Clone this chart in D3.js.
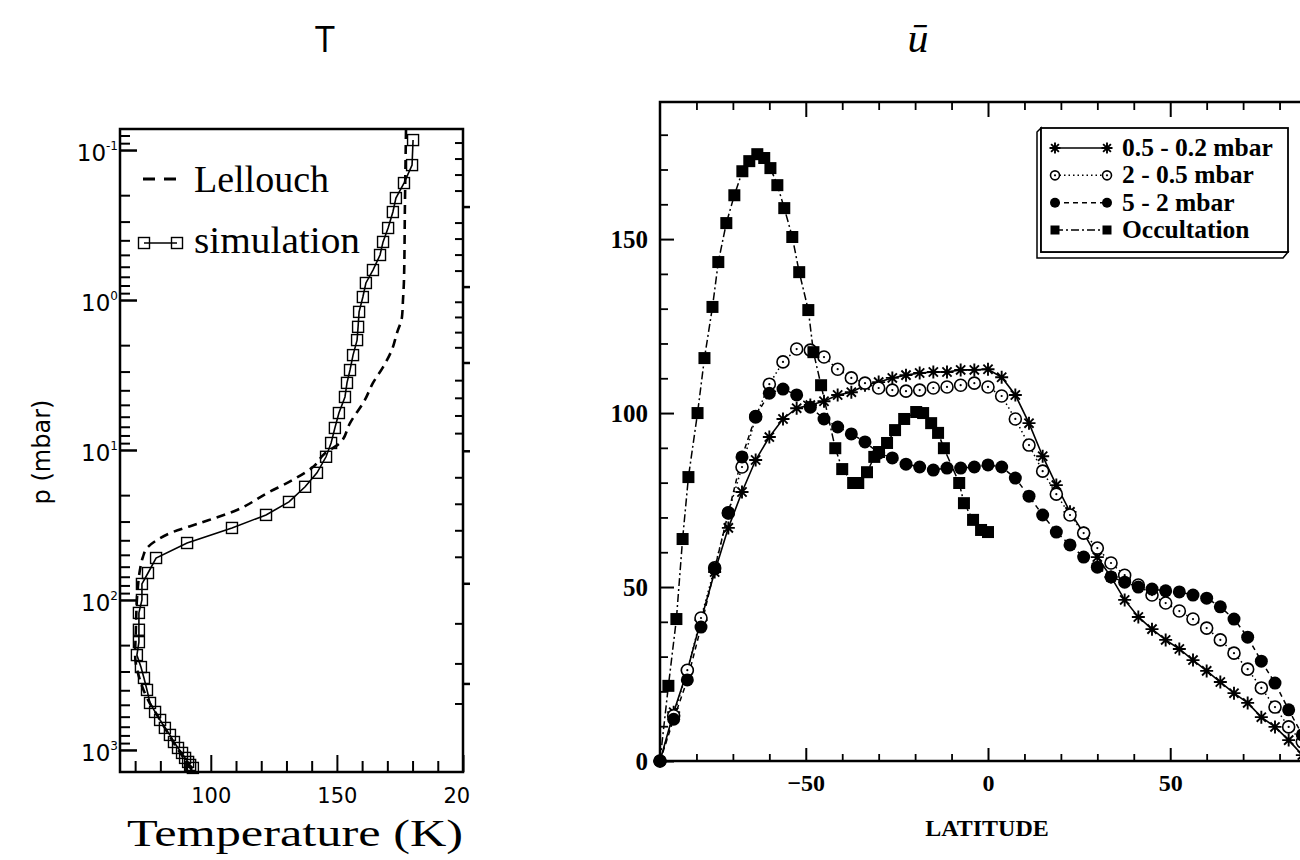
<!DOCTYPE html>
<html lang="en">
<head>
  <meta charset="UTF-8">
  <title>Temperature profile and zonal wind</title>
  <script src="https://d3js.org/d3.v7.min.js"></script>
  <style>
    body { margin: 0; background: #fff; }
    svg { display: block; }
  </style>
</head>
<body>
  <div id="chart"></div>

  <script>
    // ---- left panel data : temperature profiles (T in K, p in mbar)
    const pLellouch = [0.0736, 0.215, 0.736, 1.0, 1.30, 1.66, 2.15, 2.80, 3.57, 4.64, 6.61, 8.98, 10.5, 13.0, 15.8, 19.4, 25.1, 30.7, 35.2, 39.8, 45.0, 51.7, 63.1, 81.8, 100, 158, 233, 341, 464, 631, 926, 1359];
    const tLellouch = [177.4, 177.0, 176.6, 176.2, 175.8, 173.8, 171.8, 168.3, 164.3, 161.1, 155.2, 151.2, 145.3, 140.5, 132.6, 122.3, 110.4, 95.7, 85.0, 78.7, 74.7, 73.1, 71.9, 71.1, 70.7, 70.3, 70.0, 71.9, 75.1, 79.9, 85.8, 92.5];

    const pSimulation = [0.0858, 0.126, 0.166, 0.209, 0.259, 0.331, 0.41, 0.501, 0.631, 0.77, 0.955, 1.2, 1.51, 1.85, 2.33, 2.93, 3.57, 4.43, 5.67, 7.13, 8.98, 11.1, 14.2, 17.6, 22.2, 27.1, 33.1, 41.7, 52.5, 66.1, 78.2, 100, 122, 158, 191, 233, 280, 331, 398, 486, 558, 631, 713, 794, 885, 970, 1047, 1130, 1202, 1259, 1318];
    const tSimulation = [180.2, 179.8, 176.6, 173.4, 172.2, 170.3, 168.3, 167.1, 164.3, 161.5, 160.3, 158.8, 158.4, 158.0, 156.4, 155.2, 154.0, 153.2, 150.8, 149.2, 147.7, 145.7, 142.1, 137.4, 131.0, 121.9, 108.4, 90.6, 78.3, 75.1, 72.7, 72.7, 71.5, 71.5, 71.5, 70.7, 72.3, 73.5, 74.7, 75.9, 77.9, 79.9, 81.8, 83.8, 85.4, 87.0, 88.6, 89.8, 91.0, 91.8, 92.9];

    const tempTicks = [100, 150, 200];
    const pDecades = [0.1, 1, 10, 100, 1000];
    const pExponents = ["-1", "0", "1", "2", "3"];
    const zTickLabels = [25, 50, 100, 150, 200, 250];
    const zTickPressures = [363, 78, 10.2, 2.63, 0.82, 0.24];

    // ---- right panel data : zonal wind vs latitude
    const latGrid = [-90, -86.25, -82.5, -78.75, -75, -71.25, -67.5, -63.75, -60, -56.25, -52.5, -48.75, -45, -41.25, -37.5, -33.75, -30, -26.25, -22.5, -18.75, -15, -11.25, -7.5, -3.75, 0, 3.75, 7.5, 11.25, 15, 18.75, 22.5, 26.25, 30, 33.75, 37.5, 41.25, 45, 48.75, 52.5, 56.25, 60, 63.75, 67.5, 71.25, 75, 78.75, 82.5, 86.25, 90];
    const u05 = [0, 14, 26, 40.5, 54.3, 67, 77.3, 86.5, 93.1, 98.3, 101.4, 102.3, 103.4, 105.2, 106, 108, 108.9, 110.1, 110.9, 111.5, 111.8, 111.8, 112.4, 112.4, 112.6, 110.3, 105.2, 97.1, 87.6, 79.3, 71.6, 65.5, 58.6, 52.9, 46.3, 41.4, 37.9, 34.8, 32.2, 29.0, 25.9, 22.7, 19.5, 16.7, 12.6, 9.8, 6.0, 1.7, 0];
    const u2 = [0, 13, 26.1, 41.1, 55.5, 71.3, 84.5, 98.9, 108.3, 114.7, 118.4, 118.1, 116.1, 112.6, 110.1, 108.6, 107.2, 106.6, 106.3, 106.6, 107.2, 107.5, 108, 108.6, 107.5, 104.9, 98.3, 90.8, 83.3, 76.7, 70.7, 65.5, 61.2, 56.9, 53.4, 50.6, 47.7, 45.4, 43.1, 40.8, 38.2, 34.8, 31.0, 26.4, 21.0, 15.5, 9.8, 5.5, 0];
    const u5 = [0, 12, 23.3, 38.5, 55.2, 71.3, 87.4, 99.1, 105.7, 106.9, 105.2, 101.7, 98.3, 96, 94, 91.7, 88.5, 87.1, 85.3, 84.5, 83.6, 84.2, 84.2, 84.5, 85.1, 84.5, 81.3, 76.1, 70.7, 65.8, 62.1, 58.6, 55.7, 52.9, 51.4, 50, 49.4, 48.9, 48.6, 47.7, 46.8, 44.3, 40.8, 35.6, 28.7, 22.4, 14.7, 7.5, 0];
    const latOcc = [-90, -87.7, -85.5, -83.8, -82.2, -79.7, -77.8, -75.6, -74.0, -71.8, -69.6, -67.4, -65.5, -63.3, -61.4, -59.7, -57.8, -55.9, -53.7, -51.8, -49.3, -47.9, -45.8, -41.9, -40.0, -37.0, -35.6, -33.2, -31.2, -29.9, -27.7, -25.5, -23.0, -19.7, -17.8, -15.6, -13.7, -12.1, -7.9, -6.6, -4.1, -1.9, 0];
    const uOcc = [0, 21.6, 40.8, 63.8, 81.6, 100, 115.8, 130.5, 143.4, 154.6, 162.6, 169.5, 172.4, 174.4, 173.3, 170.4, 165.5, 158.9, 150.6, 140.5, 129.6, 117.5, 108, 89.9, 83.9, 79.9, 79.9, 83.0, 87.4, 88.8, 91.4, 95.1, 98.3, 100.3, 100, 97.1, 94.3, 89.9, 79.9, 74.1, 69.3, 66.4, 65.8];

    const seriesNames = ["0.5 - 0.2 mbar", "2 - 0.5 mbar", "5 - 2 mbar", "Occultation"];
    const latTicks = [-50, 0, 50];
    const uTicks = [0, 50, 100, 150];

    const svg = d3.select("#chart").append("svg")
      .attr("width", 1300)
      .attr("height", 860);

    svg.append("defs").append("clipPath").attr("id", "clipLeft")
      .append("rect").attr("x", 0).attr("y", 0).attr("width", 470).attr("height", 860);

    // titles
    svg.append("text")
      .attr("x", 325).attr("y", 52)
      .attr("text-anchor", "middle")
      .style("font-family", "'Open Sans', sans-serif")
      .style("font-size", "36px")
      .text("T");
    svg.append("text")
      .attr("x", 918).attr("y", 52)
      .attr("text-anchor", "middle")
      .style("font-family", "'Liberation Serif', serif")
      .style("font-style", "italic")
      .style("font-size", "42px")
      .text("\u016B");

    // ================= left panel =================
    const left = svg.append("g").attr("clip-path", "url(#clipLeft)");

    const xT = d3.scaleLinear().domain([64, 200]).range([120, 463]);
    const yP = d3.scaleLog().domain([1403, 0.0724]).range([772, 129]);

    // z (km) -> log10 p, polylinear through the labelled heights
    const zToLogP = d3.scaleLinear().domain(zTickLabels).range(zTickPressures.map(Math.log10));

    function styleAxis(g, width) {
      g.select(".domain").remove();
      g.selectAll("line").attr("stroke-width", width);
    }

    // bottom axis
    const tempMinor = d3.range(70, 200, 10).filter(t => !tempTicks.includes(t));
    left.append("g")
      .attr("transform", "translate(0,772)")
      .call(d3.axisBottom(xT).tickValues(tempMinor).tickSize(-11).tickFormat(""))
      .call(g => styleAxis(g, 2));
    left.append("g")
      .attr("transform", "translate(0,772)")
      .call(d3.axisBottom(xT).tickValues(tempTicks).tickSize(-17).tickPadding(16))
      .call(g => styleAxis(g, 2))
      .selectAll("text")
      .style("font-family", "'DejaVu Sans', sans-serif")
      .style("font-size", "21px")
      .attr("fill", "#000");

    // left axis (log pressure)
    const pMinor = [];
    [0.01, 0.1, 1, 10, 100, 1000].forEach(d => {
      for (let k = 2; k <= 9; k++) pMinor.push(k * d);
    });
    left.append("g")
      .attr("transform", "translate(120,0)")
      .call(d3.axisLeft(yP).tickValues(pMinor.filter(p => p >= 0.0724 && p <= 1403)).tickSize(-10).tickFormat(""))
      .call(g => styleAxis(g, 2));
    left.append("g")
      .attr("transform", "translate(120,0)")
      .call(d3.axisLeft(yP).tickValues(pDecades).tickSize(-17).tickFormat(""))
      .call(g => styleAxis(g, 2.5));

    const pLabels = left.append("g")
      .style("font-family", "'DejaVu Sans', sans-serif");
    pDecades.forEach((p, i) => {
      const t = pLabels.append("text")
        .attr("x", 118)
        .attr("y", yP(p) + 11)
        .attr("text-anchor", "end")
        .style("font-size", "23px");
      t.append("tspan").text("10");
      t.append("tspan").attr("dy", -11).style("font-size", "12px").text(pExponents[i]);
    });

    // right axis : altitude
    const zMinor = d3.range(20, 300, 10).filter(z => !zTickLabels.includes(z));
    left.append("g").selectAll("line")
      .data(zMinor.filter(z => {
        const p = Math.pow(10, zToLogP(z));
        return p >= 0.0724 && p <= 1403;
      }))
      .join("line")
      .attr("x1", 463).attr("x2", 455)
      .attr("y1", z => yP(Math.pow(10, zToLogP(z))))
      .attr("y2", z => yP(Math.pow(10, zToLogP(z))))
      .attr("stroke", "#000").attr("stroke-width", 2);
    left.append("g").selectAll("line")
      .data(zTickLabels)
      .join("line")
      .attr("x1", 463).attr("x2", 481)
      .attr("y1", z => yP(Math.pow(10, zToLogP(z))))
      .attr("y2", z => yP(Math.pow(10, zToLogP(z))))
      .attr("stroke", "#000").attr("stroke-width", 2.5);
    left.append("g").selectAll("text")
      .data(zTickLabels)
      .join("text")
      .attr("x", 510)
      .attr("y", z => yP(Math.pow(10, zToLogP(z))))
      .attr("dy", "0.36em")
      .style("font-family", "'DejaVu Sans', sans-serif")
      .style("font-size", "26px")
      .text(z => z);

    // frame
    left.append("rect")
      .attr("x", 120).attr("y", 129)
      .attr("width", 343).attr("height", 643)
      .attr("fill", "none").attr("stroke", "#000").attr("stroke-width", 2.5);

    // curves
    const lellouch = pLellouch.map((p, i) => ({ p: p, t: tLellouch[i] }));
    const simulation = pSimulation.map((p, i) => ({ p: p, t: tSimulation[i] }));

    left.append("path")
      .datum(lellouch)
      .attr("d", d3.line().x(d => xT(d.t)).y(d => yP(d.p)).curve(d3.curveMonotoneY))
      .attr("fill", "none").attr("stroke", "#000")
      .attr("stroke-width", 2.6).attr("stroke-dasharray", "9,6");

    left.append("path")
      .datum(simulation)
      .attr("d", d3.line().x(d => xT(d.t)).y(d => yP(d.p)))
      .attr("fill", "none").attr("stroke", "#000").attr("stroke-width", 1.6);

    left.append("g").selectAll("rect")
      .data(simulation)
      .join("rect")
      .attr("x", d => xT(d.t) - 5.5).attr("y", d => yP(d.p) - 5.5)
      .attr("width", 11).attr("height", 11)
      .attr("fill", "none").attr("stroke", "#000").attr("stroke-width", 1.4);

    // legend
    left.append("line")
      .attr("x1", 143).attr("x2", 176).attr("y1", 179).attr("y2", 179)
      .attr("stroke", "#000").attr("stroke-width", 3).attr("stroke-dasharray", "12,9");
    left.append("text")
      .attr("x", 194).attr("y", 192)
      .attr("textLength", 135).attr("lengthAdjust", "spacingAndGlyphs")
      .style("font-family", "'Liberation Serif', serif").style("font-size", "38px")
      .text("Lellouch");
    left.append("line")
      .attr("x1", 144).attr("x2", 177).attr("y1", 243).attr("y2", 243)
      .attr("stroke", "#000").attr("stroke-width", 1.6);
    [144, 177].forEach(x => {
      left.append("rect")
        .attr("x", x - 5.5).attr("y", 237.5).attr("width", 11).attr("height", 11)
        .attr("fill", "none").attr("stroke", "#000").attr("stroke-width", 1.4);
    });
    left.append("text")
      .attr("x", 194).attr("y", 253)
      .attr("textLength", 166).attr("lengthAdjust", "spacingAndGlyphs")
      .style("font-family", "'Liberation Serif', serif").style("font-size", "38px")
      .text("simulation");

    left.append("text")
      .attr("x", 477).attr("y", 160)
      .style("font-family", "'Liberation Serif', serif").style("font-size", "37px")
      .text("z (km)");

    // axis titles
    svg.append("text")
      .attr("transform", "translate(50,452) rotate(-90)")
      .attr("text-anchor", "middle")
      .style("font-family", "'DejaVu Sans', sans-serif").style("font-size", "24px")
      .text("p (mbar)");
    svg.append("text")
      .attr("x", 127).attr("y", 846)
      .attr("textLength", 336).attr("lengthAdjust", "spacingAndGlyphs")
      .style("font-family", "'Liberation Serif', serif").style("font-size", "37px")
      .text("Temperature (K)");

    // ================= right panel =================
    const right = svg.append("g");
    const xL = d3.scaleLinear().domain([-90, 90]).range([660, 1316]);
    const yU = d3.scaleLinear().domain([0, 189.4]).range([761, 102]);

    const latMinor = d3.range(-80, 90, 10).filter(l => !latTicks.includes(l));
    const uMinor = d3.range(10, 190, 10).filter(u => !uTicks.includes(u));

    right.append("g").attr("transform", "translate(0,761)")
      .call(d3.axisBottom(xL).tickValues(latMinor).tickSize(-7).tickFormat(""))
      .call(g => styleAxis(g, 1.8));
    right.append("g").attr("transform", "translate(0,761)")
      .call(d3.axisBottom(xL).tickValues(latTicks).tickSize(-13).tickPadding(13))
      .call(g => styleAxis(g, 2))
      .selectAll("text")
      .style("font-family", "'Liberation Serif', serif").style("font-weight", "bold")
      .style("font-size", "24px").attr("fill", "#000");
    right.append("g").attr("transform", "translate(0,102)")
      .call(d3.axisTop(xL).tickValues(latMinor).tickSize(-8).tickFormat(""))
      .call(g => styleAxis(g, 1.8));
    right.append("g").attr("transform", "translate(0,102)")
      .call(d3.axisTop(xL).tickValues(latTicks).tickSize(-15).tickFormat(""))
      .call(g => styleAxis(g, 2));
    right.append("g").attr("transform", "translate(660,0)")
      .call(d3.axisLeft(yU).tickValues(uMinor).tickSize(-8).tickFormat(""))
      .call(g => styleAxis(g, 1.8));
    right.append("g").attr("transform", "translate(660,0)")
      .call(d3.axisLeft(yU).tickValues(uTicks).tickSize(-14).tickPadding(12))
      .call(g => styleAxis(g, 2))
      .selectAll("text")
      .style("font-family", "'Liberation Serif', serif").style("font-weight", "bold")
      .style("font-size", "25px").attr("fill", "#000");

    right.append("rect")
      .attr("x", 660).attr("y", 102).attr("width", 656).attr("height", 659)
      .attr("fill", "none").attr("stroke", "#000").attr("stroke-width", 2.5);

    right.append("text")
      .attr("x", 987).attr("y", 836)
      .attr("text-anchor", "middle")
      .style("font-family", "'Liberation Serif', serif").style("font-weight", "bold")
      .style("font-size", "24px")
      .text("LATITUDE");

    const s05 = latGrid.map((lat, i) => ({ lat: lat, u: u05[i] }));
    const s2 = latGrid.map((lat, i) => ({ lat: lat, u: u2[i] }));
    const s5 = latGrid.map((lat, i) => ({ lat: lat, u: u5[i] }));
    const sOcc = latOcc.map((lat, i) => ({ lat: lat, u: uOcc[i] }));

    const windLine = d3.line().x(d => xL(d.lat)).y(d => yU(d.u));
    const dashes = ["", "1.5,3", "5,4", "8,3,2,3"];
    [s05, s2, s5, sOcc].forEach((s, i) => {
      right.append("path")
        .datum(s)
        .attr("d", windLine)
        .attr("fill", "none").attr("stroke", "#000")
        .attr("stroke-width", i === 0 ? 1.6 : 1.5)
        .attr("stroke-dasharray", dashes[i]);
    });

    function asteriskPath(r) {
      const a = r * Math.SQRT1_2;
      return `M${-r},0L${r},0M0,${-r}L0,${r}M${-a},${-a}L${a},${a}M${-a},${a}L${a},${-a}`;
    }

    // markers, drawn in the same order as the legend
    function drawMarkers(g, type, pts, x, y, r) {
      if (type === 0) {
        g.selectAll(null).data(pts).join("path")
          .attr("transform", d => `translate(${x(d)},${y(d)})`)
          .attr("d", asteriskPath(r))
          .attr("stroke", "#000").attr("stroke-width", 1.9).attr("fill", "none");
      } else if (type === 1) {
        g.selectAll(null).data(pts).join("circle")
          .attr("cx", x).attr("cy", y).attr("r", r)
          .attr("fill", "#fff").attr("stroke", "#000").attr("stroke-width", 1.6);
        g.selectAll(null).data(pts).join("circle")
          .attr("cx", x).attr("cy", y).attr("r", 1.1).attr("fill", "#000");
      } else if (type === 2) {
        g.selectAll(null).data(pts).join("circle")
          .attr("cx", x).attr("cy", y).attr("r", r + 0.5).attr("fill", "#000");
      } else {
        g.selectAll(null).data(pts).join("rect")
          .attr("x", d => x(d) - r).attr("y", d => y(d) - r)
          .attr("width", 2 * r).attr("height", 2 * r).attr("fill", "#000");
      }
    }

    const px = d => xL(d.lat), py = d => yU(d.u);
    drawMarkers(right.append("g"), 0, s05, px, py, 6.5);
    drawMarkers(right.append("g"), 1, s2, px, py, 6);
    drawMarkers(right.append("g"), 2, s5, px, py, 6);
    drawMarkers(right.append("g"), 3, sOcc.filter((d, i) => i > 0), px, py, 6);

    // legend box with bevel
    const legend = right.append("g");
    legend.append("polygon")
      .attr("points", "1041,128 1037,132 1037,258 1283,258 1288,252 1041,252")
      .attr("fill", "#fff").attr("stroke", "#000").attr("stroke-width", 1.5);
    legend.append("rect")
      .attr("x", 1041).attr("y", 128).attr("width", 247).attr("height", 124)
      .attr("fill", "#fff").attr("stroke", "#000").attr("stroke-width", 1.8);

    const rowY = d3.scalePoint().domain(seriesNames).range([148, 230]);
    seriesNames.forEach((name, i) => {
      const y0 = rowY(name);
      legend.append("line")
        .attr("x1", 1055).attr("x2", 1107).attr("y1", y0).attr("y2", y0)
        .attr("stroke", "#000").attr("stroke-width", 1.5)
        .attr("stroke-dasharray", dashes[i]);
      drawMarkers(legend.append("g"), i, [1055, 1107], d => d, () => y0, i === 0 ? 5.5 : 4.5);
      legend.append("text")
        .attr("x", 1122).attr("y", y0 + 8)
        .style("font-family", "'Liberation Serif', serif").style("font-weight", "bold")
        .style("font-size", "25.5px")
        .text(name);
    });
  </script>
</body>
</html>
